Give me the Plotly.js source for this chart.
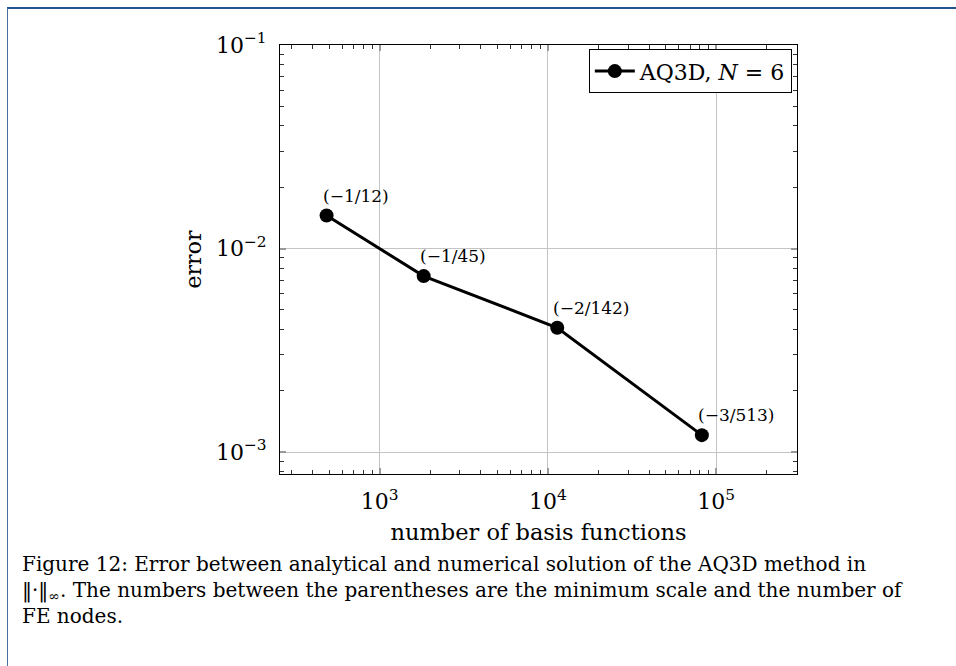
<!DOCTYPE html>
<html>
<head>
<meta charset="utf-8">
<script src="https://cdn.plot.ly/plotly-3.0.1.min.js"></script>
<style>
  html, body { margin: 0; padding: 0; background: #fff; }
  #wrap { position: relative; width: 956px; height: 666px; overflow: hidden; }
  #chart { position: absolute; left: 0; top: 0; width: 956px; height: 666px; }
  #frame { position: absolute; left: 7px; top: 7px; right: -10px; bottom: -10px;
           border-top: 2px solid #24538f; border-left: 1px solid #4a70a0; pointer-events: none; }
</style>
</head>
<body>
<div id="wrap"><div id="chart"></div><div id="frame"></div></div>
<script>
// ---- data ----
const basisFunctions = [483, 1825, 11360, 82260];
const errorValues   = [0.01452, 0.00732, 0.00408, 0.00121];
const pointLabels   = ['(−1/12)', '(−1/45)', '(−2/142)', '(−3/513)'];
const seriesName    = 'AQ3D, <i>N</i> = 6';

const xTickVals = [1e3, 1e4, 1e5];
const xTickText = ['10<sup>3</sup>', '10<sup>4</sup>', '10<sup>5</sup>'];
const yTickVals = [1e-3, 1e-2, 1e-1];
const yTickText = ['10<sup>−3</sup>', '10<sup>−2</sup>', '10<sup>−1</sup>'];

const xTitle = 'number of basis functions';
const yTitle = 'error';
const captionLines = [
  'Figure 12: Error between analytical and numerical solution of the AQ3D method in',
  '‖·‖<sub>∞</sub>. The numbers between the parentheses are the minimum scale and the number of',
  'FE nodes.'
];

// ---- minor tick positions (2..9 times each decade) ----
function minorTicks(loExp, hiExp) {
  const out = [];
  for (let e = loExp; e <= hiExp; e++) {
    for (let m = 2; m <= 9; m++) out.push(m * Math.pow(10, e));
  }
  return out;
}

const FONT = 'DejaVu Serif, Liberation Serif, serif';

const trace = {
  x: basisFunctions,
  y: errorValues,
  type: 'scatter',
  mode: 'lines+markers',
  name: seriesName,
  line: { color: '#000', width: 3 },
  marker: { color: '#000', size: 14 }
};

const annotations = pointLabels.map((t, i) => ({
  x: Math.log10(basisFunctions[i]),
  y: Math.log10(errorValues[i]),
  xref: 'x', yref: 'y',
  text: t,
  showarrow: false,
  xanchor: 'left', yanchor: 'middle',
  xshift: -6, yshift: 20,
  font: { family: FONT, size: 17, color: '#000' }
}));

annotations.push({
  x: -0.503, y: -0.2704, xref: 'paper', yref: 'paper',
  text: captionLines.join('<br>'), showarrow: false,
  xanchor: 'left', yanchor: 'middle', align: 'left',
  font: { family: FONT, size: 20, color: '#000' }
});

const axisCommon = {
  type: 'log',
  showline: true, linecolor: '#000', linewidth: 1, mirror: 'ticks',
  ticks: 'inside', ticklen: 6, tickcolor: '#999', tickwidth: 2,
  showgrid: true, gridcolor: '#c4c4c4', gridwidth: 1,
  zeroline: false,
  tickfont: { family: FONT, size: 22, color: '#000' },
  ticklabelstandoff: 8
};

const layout = {
  width: 956, height: 666,
  margin: { l: 280, r: 159, t: 45, b: 192 },
  paper_bgcolor: 'rgba(0,0,0,0)',
  plot_bgcolor: '#fff',
  showlegend: true,
  legend: {
    x: 0.99, y: 0.99, xanchor: 'right', yanchor: 'top',
    bgcolor: '#fff', bordercolor: '#000', borderwidth: 1,
    itemwidth: 40,
    font: { family: FONT, size: 22, color: '#000' }
  },
  xaxis: Object.assign({}, axisCommon, {
    range: [2.407, 5.481],
    tickmode: 'array', tickvals: xTickVals, ticktext: xTickText,
    minor: { tickmode: 'array', tickvals: minorTicks(2, 5), ticks: 'inside', ticklen: 4, tickcolor: '#333', tickwidth: 1, showgrid: false },
    title: { text: xTitle, font: { family: FONT, size: 22.5, color: '#000' }, standoff: 10 }
  }),
  yaxis: Object.assign({}, axisCommon, {
    range: [-3.108, -1],
    tickmode: 'array', tickvals: yTickVals, ticktext: yTickText,
    minor: { tickmode: 'array', tickvals: minorTicks(-4, -2), ticks: 'inside', ticklen: 4, tickcolor: '#333', tickwidth: 1, showgrid: false },
    title: { text: yTitle, font: { family: FONT, size: 22, color: '#000' }, standoff: 8 }
  }),
  annotations: annotations
};

Plotly.newPlot('chart', [trace], layout, { displayModeBar: false, staticPlot: true });
</script>
</body>
</html>
